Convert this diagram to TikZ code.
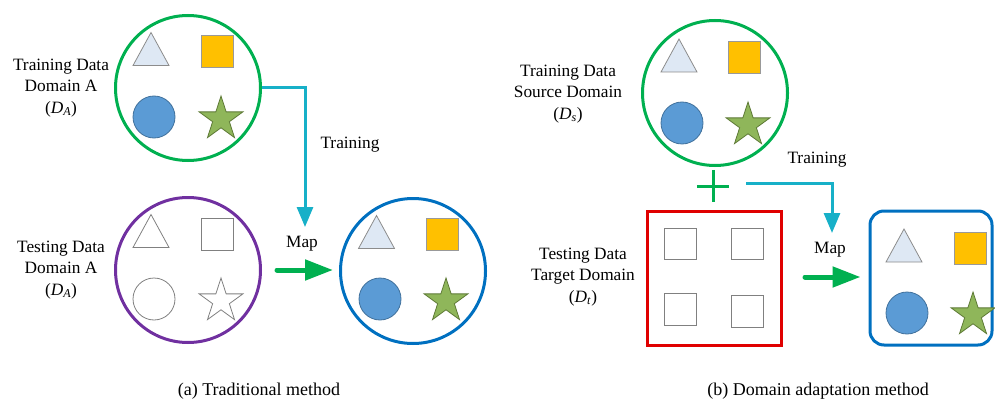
\documentclass[tikz,border=0pt]{standalone}
\usepackage{fontspec}
\setmainfont{Liberation Serif}
\usetikzlibrary{shapes.geometric,arrows.meta}
\definecolor{cgreen}{HTML}{00B050}
\definecolor{cpurple}{HTML}{7030A0}
\definecolor{cblue}{HTML}{0070C0}
\definecolor{cred}{HTML}{E00000}
\definecolor{ccyan}{RGB}{23,176,200}
\definecolor{tfill}{HTML}{DEE8F4}
\definecolor{sqfill}{HTML}{FFC000}
\definecolor{cifill}{HTML}{5B9BD5}
\definecolor{ciline}{HTML}{41719C}
\definecolor{stfill}{HTML}{8FB65A}
\definecolor{stline}{HTML}{5E7A36}
\tikzset{
  dombox/.style={circle, draw, line width=3pt, minimum size=145pt, inner sep=0pt},
  lbl/.style={align=center, font=\fontsize{17.3}{21.5}\selectfont, inner sep=0pt},
  captxt/.style={font=\fontsize{18}{22}\selectfont, inner sep=0pt},
  trainarrow/.style={ccyan, line width=3pt, -{Triangle[length=20pt,width=16pt]}},
  maparrow/.style={cgreen, line width=5pt, line cap=round, -{Triangle[length=28pt,width=20pt]}},
  tri/.style={draw=gray!90, fill=tfill, line width=0.8pt},
  sq/.style={draw=gray!80, fill=sqfill, line width=0.8pt},
  ci/.style={draw=ciline, fill=cifill, line width=0.8pt},
  stshape/.style={star, star points=5, star point ratio=2.618, minimum size=46pt, inner sep=0pt, draw=stline, fill=stfill, line width=0.8pt},
  etri/.style={draw=gray, line width=0.8pt},
  esq/.style={draw=gray, line width=0.8pt},
  eci/.style={draw=gray, line width=0.8pt},
  estshape/.style={star, star points=5, star point ratio=2.618, minimum size=46pt, inner sep=0pt, draw=gray, line width=0.8pt},
}
% #1,#2 triangle centre; #3,#4 square centre; #5,#6 circle centre; #7,#8 star centre; #9 prefix (empty or e)
\newcommand\fourshapes[9]{%
  \draw[#9tri] (#1-18,#2+16) -- (#1,#2-17) -- (#1+18,#2+16) -- cycle;
  \draw[#9sq] (#3-16,#4-16) rectangle (#3+16,#4+16);
  \draw[#9ci] (#5,#6) circle[radius=21];
  \path (#7,#8) node[#9stshape] {};
}
\begin{document}
\begin{tikzpicture}[x=1pt,y=-1pt]
\useasboundingbox (0,0) rectangle (995,401);

% ---------- (a) Traditional method ----------
\node[dombox, draw=cgreen] (trA) at (188,88) {};
\node[dombox, draw=cpurple] (teA) at (188,270) {};
\node[dombox, draw=cblue] (resA) at (413,271) {};

\fourshapes{151}{49.5}{217}{51.5}{154}{117}{221}{119}{}
\fourshapes{151}{231.5}{217}{234.5}{154}{299}{221}{301}{e}
\fourshapes{376.5}{232.5}{442}{234}{380}{299}{446}{301}{}

\node[lbl] (ltrA) at (61,88) {Training Data\\Domain A\\(\textit{D}\textsubscript{\textit{A}})};
\node[lbl] (lteA) at (61,270) {Testing Data\\Domain A\\(\textit{D}\textsubscript{\textit{A}})};
\node[lbl] (trainA) at (350,145) {Training};
\node[lbl] (mapA) at (302,244) {Map};

\coordinate (tipA) at (305,227);
\draw[trainarrow] (trA.east) -| (tipA);
\coordinate (mstartA) at (277,270);
\draw[maparrow] (mstartA) -- ([xshift=-6pt]resA.west |- mstartA);

\node[captxt] (capA) at (259,391) {(a) Traditional method};

% ---------- (b) Domain adaptation method ----------
\node[dombox, draw=cgreen] (trB) at (715,93) {};
\fourshapes{679}{56}{744}{57.5}{682}{123}{748}{125}{}

\node[draw=cred, line width=3pt, minimum width=134pt, minimum height=134pt, inner sep=0pt] (teB) at (714.5,278.5) {};
\draw[esq] (664,228) rectangle (696,259);
\draw[esq] (731,228) rectangle (763,259);
\draw[esq] (664,293) rectangle (696,325);
\draw[esq] (731,295) rectangle (763,327);

\node[draw=cblue, line width=3pt, rounded corners=14pt, minimum width=122pt, minimum height=134pt, inner sep=0pt] (resB) at (931,278) {};
\fourshapes{904}{246}{970}{248}{907}{313}{973}{315}{}

% plus sign
\node[inner sep=0pt, minimum size=32pt] (plus) at (713,186) {};
\draw[cgreen, line width=3pt] (plus.west) -- (plus.east) (plus.north) -- (plus.south);

\node[lbl] (ltrB) at (568,94) {Training Data\\Source Domain\\(\textit{D}\textsubscript{\textit{s}})};
\node[lbl] (lteB) at (583,277) {Testing Data\\Target Domain\\(\textit{D}\textsubscript{\textit{t}})};
\node[lbl] (trainB) at (817,160) {Training};
\node[lbl] (mapB) at (830,250) {Map};

\coordinate (cstartB) at (746,183);
\coordinate (tipB) at (832,233);
\draw[trainarrow] (cstartB) -| (tipB);
\coordinate (mstartB) at (805,277);
\draw[maparrow] (mstartB) -- ([xshift=-8pt]resB.west |- mstartB);

\node[captxt] (capB) at (818,391) {(b) Domain adaptation method};
\end{tikzpicture}
\end{document}
